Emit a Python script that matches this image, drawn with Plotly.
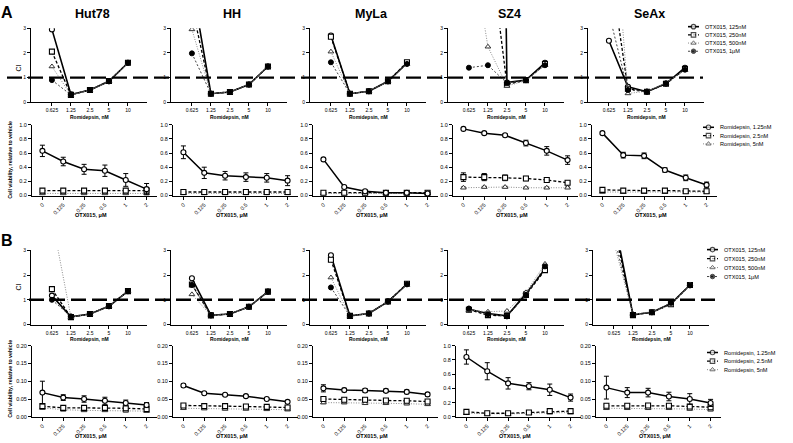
import plotly.graph_objects as go

W, H = 793, 443

# ---------------- categories / labels ----------------
romidepsin_nM = ["0.625", "1.25", "2.5", "5", "10"]
otx015_uM = ["0", "0.125", "0.25", "0.5", "1", "2"]
cell_lines = ["Hut78", "HH", "MyLa", "SZ4", "SeAx"]
ci_series = ["OTX015, 125nM", "OTX015, 250nM", "OTX015, 500nM", "OTX015, 1μM"]
via_series = ["Romidepsin, 1.25nM", "Romidepsin, 2.5nM", "Romidepsin, 5nM"]

# ---------------- panel A : CI (rows = 125nM, 250nM, 500nM, 1uM OTX015) ----------------
A_ci_Hut78 = [[2.95, 0.32, 0.50, 0.85, 1.60],
              [2.05, 0.30, 0.50, 0.86, 1.60],
              [1.45, 0.30, 0.50, 0.85, 1.60],
              [0.90, 0.30, 0.50, 0.85, 1.60]]
A_ci_HH = [[4.8, 0.35, 0.42, 0.72, 1.45],
           [3.9, 0.35, 0.42, 0.72, 1.45],
           [2.95, 0.35, 0.42, 0.72, 1.45],
           [1.98, 0.35, 0.42, 0.72, 1.45]]
A_ci_MyLa = [[2.70, 0.35, 0.45, 0.85, 1.58],
             [2.65, 0.35, 0.45, 0.85, 1.62],
             [2.05, 0.35, 0.45, 0.85, 1.55],
             [1.62, 0.35, 0.45, 0.85, 1.55]]
A_ci_SZ4 = [[None, 60.0, 0.80, 0.90, 1.60],
            [None, 6.9, 0.72, 0.90, 1.55],
            [7.0, 2.25, 0.66, 0.88, 1.50],
            [1.40, 1.50, 0.78, 0.90, 1.50]]
A_ci_SeAx = [[2.49, 0.63, 0.43, 0.76, 1.40],
             [5.8, 0.55, 0.43, 0.75, 1.35],
             [10.0, 0.36, 0.45, 0.78, 1.30],
             [3.6, 0.50, 0.43, 0.76, 1.32]]

# ---------------- panel B : CI ----------------
B_ci_Hut78 = [[1.17, 0.31, 0.43, 0.74, 1.35],
              [1.43, 0.30, 0.43, 0.75, 1.35],
              [4.3, 0.30, 0.42, 0.74, 1.35],
              [1.00, 0.33, 0.43, 0.74, 1.35]]
B_ci_HH = [[1.87, 0.38, 0.43, 0.72, 1.33],
           [1.62, 0.37, 0.43, 0.72, 1.33],
           [1.22, 0.37, 0.43, 0.72, 1.33],
           [1.60, 0.37, 0.43, 0.72, 1.33]]
B_ci_MyLa = [[2.80, 0.35, 0.45, 0.93, 1.63],
             [2.62, 0.35, 0.45, 0.93, 1.65],
             [1.90, 0.35, 0.45, 0.93, 1.60],
             [1.50, 0.35, 0.45, 0.93, 1.63]]
B_ci_SZ4 = [[0.62, 0.45, 0.35, 1.25, 2.25],
            [0.60, 0.38, 0.35, 1.20, 2.20],
            [0.58, 0.52, 0.55, 1.30, 2.45],
            [0.65, 0.42, 0.33, 1.20, 2.35]]
B_ci_SeAx = [[4.3, 0.40, 0.50, 0.85, 1.60],
             [4.0, 0.38, 0.50, 0.82, 1.60],
             [3.3, 0.42, 0.52, 0.80, 1.62],
             [3.6, 0.40, 0.50, 0.88, 1.58]]

# ---------------- panel A : viability (means / errors; rows = 1.25, 2.5, 5 nM romidepsin) ----------------
A_via_Hut78 = [[0.63, 0.48, 0.37, 0.35, 0.22, 0.09],
               [0.07, 0.07, 0.07, 0.07, 0.07, 0.07],
               [0.03, 0.03, 0.03, 0.03, 0.03, 0.03]]
A_err_Hut78 = [[0.08, 0.06, 0.07, 0.08, 0.09, 0.08],
               [0.01, 0.01, 0.01, 0.01, 0.01, 0.01],
               [0.01, 0.01, 0.01, 0.01, 0.01, 0.01]]
A_via_HH = [[0.61, 0.32, 0.28, 0.26, 0.25, 0.21],
            [0.05, 0.05, 0.05, 0.05, 0.05, 0.05],
            [0.03, 0.03, 0.03, 0.03, 0.03, 0.03]]
A_err_HH = [[0.09, 0.08, 0.06, 0.06, 0.06, 0.07],
            [0.01, 0.01, 0.01, 0.01, 0.01, 0.01],
            [0.01, 0.01, 0.01, 0.01, 0.01, 0.01]]
A_via_MyLa = [[0.51, 0.12, 0.06, 0.04, 0.04, 0.03],
              [0.04, 0.04, 0.04, 0.04, 0.04, 0.04],
              [0.03, 0.03, 0.03, 0.03, 0.03, 0.03]]
A_err_MyLa = [[0.01, 0.01, 0.01, 0.01, 0.01, 0.01],
              [0.01, 0.01, 0.01, 0.01, 0.01, 0.01],
              [0.01, 0.01, 0.01, 0.01, 0.01, 0.01]]
A_via_SZ4 = [[0.94, 0.88, 0.85, 0.74, 0.63, 0.50],
             [0.26, 0.26, 0.25, 0.24, 0.22, 0.18],
             [0.11, 0.12, 0.12, 0.11, 0.11, 0.11]]
A_err_SZ4 = [[0.01, 0.02, 0.02, 0.04, 0.06, 0.06],
             [0.06, 0.05, 0.04, 0.03, 0.03, 0.02],
             [0.01, 0.01, 0.01, 0.01, 0.01, 0.01]]
A_via_SeAx = [[0.88, 0.57, 0.56, 0.36, 0.25, 0.15],
              [0.08, 0.07, 0.07, 0.07, 0.06, 0.06],
              [0.05, 0.05, 0.05, 0.05, 0.05, 0.05]]
A_err_SeAx = [[0.02, 0.04, 0.04, 0.03, 0.04, 0.04],
              [0.01, 0.01, 0.01, 0.01, 0.01, 0.01],
              [0.01, 0.01, 0.01, 0.01, 0.01, 0.01]]

# ---------------- panel B : viability ----------------
B_via_Hut78 = [[0.068, 0.054, 0.050, 0.045, 0.039, 0.033],
               [0.030, 0.025, 0.025, 0.025, 0.024, 0.022],
               [0.025, 0.020, 0.018, 0.018, 0.017, 0.016]]
B_err_Hut78 = [[0.032, 0.008, 0.009, 0.010, 0.008, 0.007],
               [0.004, 0.004, 0.004, 0.004, 0.004, 0.004],
               [0.003, 0.003, 0.003, 0.003, 0.003, 0.003]]
B_via_HH = [[0.088, 0.066, 0.062, 0.058, 0.050, 0.042],
            [0.032, 0.030, 0.030, 0.029, 0.028, 0.026],
            [0.024, 0.023, 0.022, 0.022, 0.021, 0.020]]
B_err_HH = [[0.004, 0.003, 0.003, 0.003, 0.003, 0.003],
            [0.003, 0.003, 0.003, 0.003, 0.003, 0.003],
            [0.002, 0.002, 0.002, 0.002, 0.002, 0.002]]
B_via_MyLa = [[0.080, 0.075, 0.074, 0.073, 0.070, 0.063],
              [0.050, 0.048, 0.048, 0.046, 0.045, 0.043],
              [0.040, 0.040, 0.038, 0.038, 0.037, 0.035]]
B_err_MyLa = [[0.010, 0.005, 0.005, 0.005, 0.005, 0.005],
              [0.004, 0.004, 0.004, 0.004, 0.004, 0.004],
              [0.003, 0.003, 0.003, 0.003, 0.003, 0.003]]
B_via_SZ4 = [[0.84, 0.64, 0.47, 0.43, 0.38, 0.27],
             [0.07, 0.05, 0.05, 0.06, 0.08, 0.08],
             [0.05, 0.04, 0.04, 0.05, 0.06, 0.06]]
B_err_SZ4 = [[0.10, 0.12, 0.08, 0.05, 0.08, 0.05],
             [0.02, 0.01, 0.01, 0.01, 0.02, 0.02],
             [0.01, 0.01, 0.01, 0.01, 0.01, 0.01]]
B_via_SeAx = [[0.082, 0.068, 0.068, 0.057, 0.050, 0.039],
              [0.031, 0.031, 0.032, 0.031, 0.029, 0.027],
              [0.024, 0.024, 0.024, 0.024, 0.022, 0.020]]
B_err_SeAx = [[0.032, 0.014, 0.012, 0.012, 0.015, 0.010],
              [0.004, 0.004, 0.004, 0.004, 0.004, 0.004],
              [0.003, 0.003, 0.003, 0.003, 0.003, 0.003]]

A_ci = [A_ci_Hut78, A_ci_HH, A_ci_MyLa, A_ci_SZ4, A_ci_SeAx]
B_ci = [B_ci_Hut78, B_ci_HH, B_ci_MyLa, B_ci_SZ4, B_ci_SeAx]
A_via = [A_via_Hut78, A_via_HH, A_via_MyLa, A_via_SZ4, A_via_SeAx]
A_err = [A_err_Hut78, A_err_HH, A_err_MyLa, A_err_SZ4, A_err_SeAx]
B_via = [B_via_Hut78, B_via_HH, B_via_MyLa, B_via_SZ4, B_via_SeAx]
B_err = [B_err_Hut78, B_err_HH, B_err_MyLa, B_err_SZ4, B_err_SeAx]

# ---------------- styles ----------------
FONT = "Liberation Sans, Arial, sans-serif"
ci_styles = [
    dict(line=dict(color="black", width=1.6), marker=dict(symbol="circle", color="white", size=5, line=dict(color="black", width=1.1))),
    dict(line=dict(color="black", width=1.3, dash="3px,2px"), marker=dict(symbol="square", color="white", size=5, line=dict(color="black", width=1.1))),
    dict(line=dict(color="#8a8a8a", width=1.0, dash="1px,1.5px"), marker=dict(symbol="triangle-up", color="white", size=5, line=dict(color="#333", width=1.0))),
    dict(line=dict(color="#444", width=1.0, dash="2px,2px"), marker=dict(symbol="circle", color="black", size=5, line=dict(color="black", width=1))),
]
via_styles = [
    dict(line=dict(color="black", width=1.5), marker=dict(symbol="circle", color="white", size=5, line=dict(color="black", width=1.1))),
    dict(line=dict(color="black", width=1.3, dash="3px,2px"), marker=dict(symbol="square", color="white", size=5, line=dict(color="black", width=1.1))),
    dict(line=dict(color="#8a8a8a", width=1.0, dash="1px,1.5px"), marker=dict(symbol="triangle-up", color="white", size=5, line=dict(color="#333", width=1.0))),
]

# ---------------- geometry (pixels) ----------------
ROW_A_CI = (25.5, 100.7)
ROW_A_VIA = (123.3, 195.2)
ROW_B_CI = (250.7, 326.0)
ROW_B_VIA = (347.3, 419.5)
CI_A_OFF = [0, 140, 279, 417, 557]
CI_B_OFF = [0, 140, 279, 417, 562]
VIA_A_OFF = [0, 141, 281, 421, 560]
VIA_B_OFF = [0, 141, 281, 424, 564]
CI_X = (31, 147)
VIA_X = (32, 157)


def px_x(p):
    return p / W


def px_y(p):
    return 1 - p / H


def ids(n):
    if n == 1:
        return "x", "y", "xaxis", "yaxis"
    return f"x{n}", f"y{n}", f"xaxis{n}", f"yaxis{n}"


fig = go.Figure()
layout = {}
annotations = []
shapes = []

base_axis = dict(showline=True, linecolor="black", linewidth=1, ticks="outside", ticklen=3,
                 tickwidth=1, tickcolor="black", showgrid=False, zeroline=False, fixedrange=True,
                 tickfont=dict(family=FONT, size=5, color="black"))


def add_ci_panel(n, data, xoff, row):
    xa, ya, xk, yk = ids(n)
    layout[xk] = dict(base_axis, type="category", domain=[px_x(CI_X[0] + xoff), px_x(CI_X[1] + xoff)],
                      range=[-1.1, 5.0], anchor=ya, tickmode="array", tickvals=romidepsin_nM,
                      ticktext=romidepsin_nM, tickangle=0)
    layout[yk] = dict(base_axis, domain=[px_y(row[1]), px_y(row[0])], range=[0, 3], anchor=xa,
                      tickmode="array", tickvals=[0, 1, 2, 3])
    for k in range(len(ci_series)):
        st = ci_styles[k]
        fig.add_trace(go.Scatter(x=romidepsin_nM, y=data[k], xaxis=xa, yaxis=ya, mode="lines+markers",
                                 line=st["line"], marker=st["marker"], cliponaxis=True, showlegend=False,
                                 name=ci_series[k]))
    cx = (CI_X[0] + CI_X[1]) / 2 + xoff
    annotations.append(dict(text="<b>Romidepsin, nM</b>", x=px_x(cx), y=px_y(row[1] + 14.5), xref="paper",
                            yref="paper", showarrow=False, font=dict(family=FONT, size=5, color="black"),
                            xanchor="center", yanchor="middle"))
    return cx


def add_via_panel(n, means, errs, xoff, row, ymax):
    xa, ya, xk, yk = ids(n)
    layout[xk] = dict(base_axis, type="category", domain=[px_x(VIA_X[0] + xoff), px_x(VIA_X[1] + xoff)],
                      range=[-0.5, 5.5], anchor=ya, tickmode="array", tickvals=otx015_uM,
                      ticktext=otx015_uM, tickangle=-45)
    layout[xk]["tickfont"] = dict(family=FONT, size=5.5, color="black")
    if ymax == 1.0:
        yt = [0, 0.2, 0.4, 0.6, 0.8, 1.0]
        fmt = ".1f"
    else:
        yt = [0, 0.05, 0.10, 0.15, 0.20]
        fmt = ".2f"
    layout[yk] = dict(base_axis, domain=[px_y(row[1]), px_y(row[0])], range=[0, ymax], anchor=xa,
                      tickmode="array", tickvals=yt, tickformat=fmt)
    layout[yk]["tickfont"] = dict(family=FONT, size=5.5, color="black")
    for k in reversed(range(len(via_series))):
        st = via_styles[k]
        fig.add_trace(go.Scatter(x=otx015_uM, y=means[k], xaxis=xa, yaxis=ya, mode="lines+markers",
                                 line=st["line"], marker=st["marker"], cliponaxis=False, showlegend=False,
                                 name=via_series[k],
                                 error_y=dict(type="data", array=errs[k], visible=True, thickness=1,
                                              width=2.5, color="black")))
    cx = (VIA_X[0] + VIA_X[1]) / 2 + xoff - 4
    annotations.append(dict(text="<b>OTX015, μM</b>", x=px_x(cx), y=px_y(row[1] + 19.5), xref="paper",
                            yref="paper", showarrow=False, font=dict(family=FONT, size=5.5, color="black"),
                            xanchor="center", yanchor="middle"))


# Panel A
for j, name in enumerate(cell_lines):
    cx = add_ci_panel(1 + j, A_ci[j], CI_A_OFF[j], ROW_A_CI)
    annotations.append(dict(text=f"<b>{name}</b>", x=px_x(cx + 3), y=px_y(11), xref="paper", yref="paper",
                            showarrow=False, font=dict(family=FONT, size=12.5, color="black"),
                            xanchor="center", yanchor="middle"))
    add_via_panel(6 + j, A_via[j], A_err[j], VIA_A_OFF[j], ROW_A_VIA, 1.0)

# Panel B
for j, name in enumerate(cell_lines):
    add_ci_panel(11 + j, B_ci[j], CI_B_OFF[j], ROW_B_CI)
    add_via_panel(16 + j, B_via[j], B_err[j], VIA_B_OFF[j], ROW_B_VIA, 1.0 if name == "SZ4" else 0.2)

# dashed CI = 1 reference lines spanning each CI row
shapes.append(dict(type="line", xref="paper", yref="y", x0=px_x(7), x1=px_x(703), y0=1, y1=1,
                   line=dict(color="black", width=2.4, dash="15px,6px")))
shapes.append(dict(type="line", xref="paper", yref="y11", x0=px_x(29), x1=px_x(715), y0=1, y1=1,
                   line=dict(color="black", width=2.4, dash="15px,6px")))

# panel letters and axis titles
for letter, py in (("A", 10), ("B", 241)):
    annotations.append(dict(text=f"<b>{letter}</b>", x=px_x(7), y=px_y(py), xref="paper", yref="paper",
                            showarrow=False, font=dict(family=FONT, size=16, color="black"),
                            xanchor="center", yanchor="middle"))
for py in (66, 288):
    annotations.append(dict(text="CI", x=px_x(18.5), y=px_y(py), xref="paper", yref="paper", textangle=-90,
                            showarrow=False, font=dict(family=FONT, size=7, color="black"),
                            xanchor="center", yanchor="middle"))
for py in (159, 381):
    annotations.append(dict(text="<b>Cell viability, relative to vehicle</b>", x=px_x(10), y=px_y(py),
                            xref="paper", yref="paper", textangle=-90, showarrow=False,
                            font=dict(family=FONT, size=5.3, color="black"),
                            xanchor="center", yanchor="middle"))

# ---------------- legends (overlay axis in pixel units) ----------------
layout["xaxis21"] = dict(domain=[0, 1], range=[0, W], visible=False, fixedrange=True, anchor="y21")
layout["yaxis21"] = dict(domain=[0, 1], range=[H, 0], visible=False, fixedrange=True, anchor="x21")

legend_specs = [
    (ci_series, ci_styles, 688, 24.0, 8.3),
    (via_series, via_styles, 703, 126.0, 8.4),
    (ci_series, ci_styles, 707, 250.0, 9.1),
    (via_series, via_styles, 707, 354.3, 8.7),
]
for names, styles, x0, y0, dy in legend_specs:
    for i, nm in enumerate(names):
        yy = y0 + i * dy
        st = styles[i]
        fig.add_trace(go.Scatter(x=[x0, x0 + 5.5, x0 + 11], y=[yy, yy, yy], xaxis="x21", yaxis="y21",
                                 mode="lines+markers", line=st["line"],
                                 marker=dict(st["marker"], size=[0, 4.5, 0]), showlegend=False,
                                 hoverinfo="skip", cliponaxis=False))
        annotations.append(dict(text=nm, x=px_x(x0 + 15), y=px_y(yy), xref="paper", yref="paper",
                                showarrow=False, font=dict(family=FONT, size=5.6, color="black"),
                                xanchor="left", yanchor="middle"))

fig.update_layout(width=W, height=H, autosize=False, margin=dict(l=0, r=0, t=0, b=0),
                  paper_bgcolor="white", plot_bgcolor="rgba(0,0,0,0)", showlegend=False,
                  annotations=annotations, shapes=shapes, **layout)

fig.write_html("out.html", config={"displayModeBar": False},
               post_script="document.body.style.margin='0';document.body.style.overflow='hidden';")
